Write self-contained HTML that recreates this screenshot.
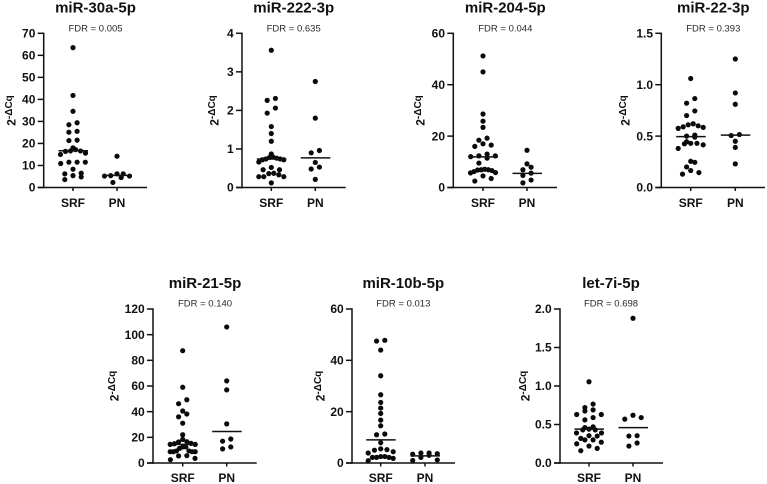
<!DOCTYPE html>
<html lang="en">
<head>
<meta charset="utf-8">
<title>miRNA expression in SRF and PN</title>
<style>
html,body{margin:0;padding:0;background:#fff;}
svg{display:block;font-family:"Liberation Sans",Arial,sans-serif;}
</style>
</head>
<body>
<svg id="figure" xmlns="http://www.w3.org/2000/svg" width="767" height="484" viewBox="0 0 767 484">
<rect width="767" height="484" fill="#fff"/>
</svg>
<script>
const categories = ['SRF', 'PN'];

const titles = ['miR-30a-5p', 'miR-222-3p', 'miR-204-5p', 'miR-22-3p', 'miR-21-5p', 'miR-10b-5p', 'let-7i-5p'];
const fdrLabels = ['FDR = 0.005', 'FDR = 0.635', 'FDR = 0.044', 'FDR = 0.393', 'FDR = 0.140', 'FDR = 0.013', 'FDR = 0.698'];

const ticks30a = ['0', '10', '20', '30', '40', '50', '60', '70'];
const ticks222 = ['0', '1', '2', '3', '4'];
const ticks204 = ['0', '20', '40', '60'];
const ticks22 = ['0.0', '0.5', '1.0', '1.5'];
const ticks21 = ['0', '20', '40', '60', '80', '100', '120'];
const ticks10b = ['0', '20', '40', '60'];
const ticks7i = ['0.0', '0.5', '1.0', '1.5', '2.0'];

const srf30a = [63.5, 41.8, 34.6, 29.4, 28.5, 25.5, 25.1, 21.5, 21.3, 18, 17.2, 16.6, 16.6, 16.4, 15.6, 15, 11.5, 11.5, 11.5, 10.9, 8.3, 6.5, 6.2, 5.4, 4.8, 3.6];
const pn30a = [14.2, 6.2, 6.2, 5.4, 5.2, 5.2, 4.5, 2.3];
const srf222 = [3.56, 2.31, 2.26, 2.06, 1.93, 1.58, 1.4, 1.2, 0.87, 0.79, 0.78, 0.76, 0.74, 0.74, 0.72, 0.72, 0.66, 0.52, 0.46, 0.46, 0.37, 0.36, 0.33, 0.28, 0.28, 0.28, 0.12];
const pn222 = [2.75, 1.8, 0.96, 0.9, 0.65, 0.53, 0.48, 0.21];
const srf204 = [51.2, 45, 28.6, 25.8, 23.4, 19.2, 18.4, 17, 16.5, 16, 13, 12.3, 12.3, 12, 11.4, 9.5, 7.1, 6.9, 6.9, 6.8, 6.6, 6.2, 5.8, 5.7, 4.5, 3.5, 2.5];
const pn204 = [14.5, 9.2, 7.9, 6.9, 5.6, 4.7, 2.9, 1.8];
const srf22 = [1.06, 0.865, 0.82, 0.745, 0.7, 0.62, 0.61, 0.6, 0.59, 0.585, 0.575, 0.51, 0.5, 0.49, 0.445, 0.43, 0.43, 0.425, 0.415, 0.38, 0.255, 0.245, 0.2, 0.165, 0.145, 0.13];
const pn22 = [1.25, 0.92, 0.81, 0.515, 0.505, 0.45, 0.39, 0.23];
const srf21 = [87.5, 59, 49.3, 46.2, 40.5, 38.2, 36, 31, 22, 18.4, 16.6, 16.4, 15.3, 15, 14.5, 14.5, 12.5, 12.5, 11.4, 9.4, 9.4, 8.8, 8.8, 8.8, 8.8, 5.7, 5.5, 3.6, 2.6];
const pn21 = [106, 64, 57, 30.5, 18.7, 17, 12.5, 11];
const srf10b = [47.8, 47.5, 44, 34, 26.6, 23.6, 21.4, 19.3, 16.7, 14.5, 11.3, 11, 7.9, 5.5, 5.2, 5, 4.4, 3.9, 2.5, 2.5, 2.2, 2.2, 2.2, 1.8, 0.9];
const pn10b = [3.9, 3.9, 3.6, 3.4, 3, 2.2, 1.2, 1];
const srf7i = [1.055, 0.765, 0.72, 0.69, 0.675, 0.63, 0.63, 0.59, 0.56, 0.47, 0.46, 0.44, 0.43, 0.43, 0.39, 0.39, 0.355, 0.35, 0.32, 0.3, 0.3, 0.27, 0.25, 0.22, 0.19, 0.16];
const pn7i = [1.88, 0.62, 0.59, 0.57, 0.355, 0.35, 0.26, 0.22];

const srfMedians = [16.7, 0.74, 11.9, 0.495, 14.5, 9, 0.44];
const pnMedians = [5.5, 0.77, 5.5, 0.51, 24.5, 2.8, 0.46];

const layouts = [
  {axis: 43.7, srf: 73, pn: 117, end: 147, mid: 95.5, yl: 15.5, row: 0},
  {axis: 242, srf: 271.3, pn: 315.3, end: 345.7, mid: 293.7, yl: 218.5, row: 0},
  {axis: 453.3, srf: 483, pn: 527, end: 557, mid: 505.3, yl: 424.5, row: 0},
  {axis: 661.3, srf: 690.7, pn: 735.3, end: 765, mid: 713.3, yl: 629.5, row: 0},
  {axis: 153, srf: 182.7, pn: 226.7, end: 256.7, mid: 205, yl: 118.5, row: 1},
  {axis: 352, srf: 380.7, pn: 425, end: 455, mid: 403.3, yl: 324.5, row: 1},
  {axis: 560, srf: 589, pn: 633, end: 663, mid: 611, yl: 529.5, row: 1}
];
const rows = [
  {y0: 187.5, top: 33.3, title: 12.5, fdr: 31.3, cat: 207, yl: 110.5},
  {y0: 463, top: 309, title: 288, fdr: 306.7, cat: 482, yl: 386}
];
const tickSets = [ticks30a, ticks222, ticks204, ticks22, ticks21, ticks10b, ticks7i];
const srfSets = [srf30a, srf222, srf204, srf22, srf21, srf10b, srf7i];
const pnSets = [pn30a, pn222, pn204, pn22, pn21, pn10b, pn7i];

const NS = 'http://www.w3.org/2000/svg';
const INK = '#111111';
const figure = document.getElementById('figure');

function make(tag, parent, attrs, text) {
  const node = document.createElementNS(NS, tag);
  for (const key in attrs) node.setAttribute(key, attrs[key]);
  if (text !== undefined) node.textContent = text;
  parent.appendChild(node);
  return node;
}

function swarmOffsets(pixels) {
  const order = pixels.map((p, i) => i).sort((a, b) => pixels[b] - pixels[a]);
  const out = new Array(pixels.length).fill(0);
  let start = 0;
  while (start < order.length) {
    let stop = start + 1;
    while (stop < order.length && pixels[order[start]] - pixels[order[stop]] < 5.2) stop++;
    const n = stop - start;
    const gap = n > 1 ? Math.min(8.2, 25 / (n - 1)) : 0;
    for (let k = start; k < stop; k++) {
      const slot = k - start;
      const alt = slot % 2 === 0 ? slot / 2 : n - 1 - (slot - 1) / 2;
      out[order[k]] = (alt - (n - 1) / 2) * gap;
    }
    start = stop;
  }
  return out;
}

function drawPanel(i) {
  const L = layouts[i];
  const R = rows[L.row];
  const labels = tickSets[i];
  const maxV = parseFloat(labels[labels.length - 1]);
  const yScale = v => R.y0 - (v / maxV) * (R.y0 - R.top);
  const xCenters = [L.srf, L.pn];
  const g = make('g', figure, {});
  
  

  const title = make('text', g, {x: L.mid, y: R.title, 'text-anchor': 'middle', 'font-size': 15, 'font-weight': 700, fill: INK}, titles[i]);
  
  

  const fdr = make('text', g, {x: L.mid, y: R.fdr, 'text-anchor': 'middle', 'font-size': 9.5, fill: '#2a2a2a'}, fdrLabels[i]);
  
  

  const yAxis = make('line', g, {x1: L.axis, x2: L.axis, y1: R.top - 0.7, y2: R.y0 + 0.7, stroke: INK, 'stroke-width': 1.5});
  
  

  const xAxis = make('line', g, {x1: L.axis - 6, x2: L.end, y1: R.y0, y2: R.y0, stroke: INK, 'stroke-width': 1.5});
  
  

  labels.forEach(label => {
    const y = yScale(parseFloat(label));
    const tick = make('line', g, {x1: L.axis - 6, x2: L.axis, y1: y, y2: y, stroke: INK, 'stroke-width': 1.5});
    
    
    const text = make('text', g, {x: L.axis - 8.3, y: y + 4.2, 'text-anchor': 'end', 'font-size': 12, 'font-weight': 700, fill: INK}, label);
    
    
  });

  categories.forEach((cat, c) => {
    const x = xCenters[c];
    const tick = make('line', g, {x1: x, x2: x, y1: R.y0, y2: R.y0 + 3.5, stroke: INK, 'stroke-width': 1.5});
    
    
    const text = make('text', g, {x: x, y: R.cat, 'text-anchor': 'middle', 'font-size': 12, 'font-weight': 700, fill: INK}, cat);
    
    
  });

  const yTitle = make('text', g, {transform: 'translate(' + L.yl + ',' + R.yl + ') rotate(-90)', 'text-anchor': 'middle', 'font-size': 12, 'font-weight': 700, fill: INK});
  
  
  make('tspan', yTitle, {}, '2');
  make('tspan', yTitle, {dy: -3.5, 'font-size': 10}, '-ΔCq');

  [srfSets[i], pnSets[i]].forEach((values, c) => {
    const px = values.map(yScale);
    const off = swarmOffsets(px);
    values.forEach((v, k) => {
      const dot = make('circle', g, {cx: xCenters[c] + off[k], cy: px[k], r: 2.6, fill: '#0a0a0a'});
      
      
    });
  });

  [srfMedians[i], pnMedians[i]].forEach((m, c) => {
    const y = yScale(m);
    const line = make('line', g, {x1: xCenters[c] - 14.5, x2: xCenters[c] + 15, y1: y, y2: y, stroke: INK, 'stroke-width': 1.5});
    
    
  });
}

titles.forEach((t, i) => drawPanel(i));
</script>
</body>
</html>
